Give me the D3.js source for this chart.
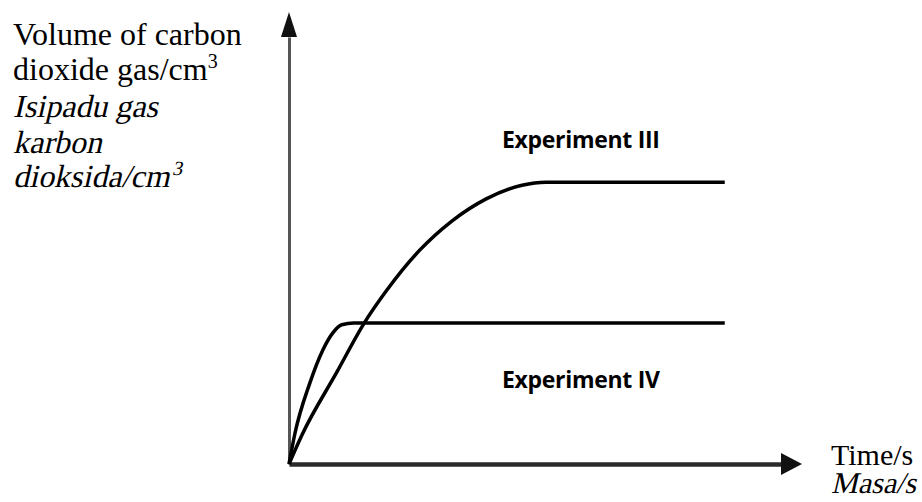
<!DOCTYPE html>
<html>
<head>
<meta charset="utf-8">
<script src="https://cdn.jsdelivr.net/npm/d3@7"></script>
<style>
  html, body { margin: 0; padding: 0; background: #fff; }
  svg { display: block; }
</style>
</head>
<body>
<div id="chart"></div>
<script>
// curve data (arbitrary units, 0-100 on both axes)
const timeIII = [0, 2.6, 9.6, 15.1, 19.7, 26.1, 32.7, 39.6, 46.8, 51.6, 60, 87.5];
const volumeIII = [0, 6.8, 21.5, 33, 40.8, 49.9, 56.9, 62.1, 65.3, 66, 66, 66];
const timeIV = [0, 1.2, 4.2, 6.8, 8.8, 10.6, 13, 87.5];
const volumeIV = [0, 7.2, 19, 26.7, 30.7, 32.6, 33, 33];

const seriesNames = ["Experiment III", "Experiment IV"];
const yLabelLines = ["Volume of carbon", "dioxide gas/cm", "Isipadu gas", "karbon", "dioksida/cm"];
const xLabelLines = ["Time/s", "Masa/s"];

const width = 922, height = 502;
const serif = "'Liberation Serif', 'Times New Roman', Times, serif";
const svg = d3.select("#chart").append("svg").attr("width", width).attr("height", height);

const x = d3.scaleLinear().domain([0, 100]).range([289, 787]);
const y = d3.scaleLinear().domain([0, 100]).range([464, 37]);

// axes with no ticks, just the spine
svg.append("g")
  .attr("transform", `translate(${x(0)},0)`)
  .call(d3.axisLeft(y).tickValues([]).tickSizeOuter(0))
  .call(g => g.select(".domain").attr("stroke", "#555").attr("stroke-width", 3));

svg.append("g")
  .attr("transform", `translate(0,${y(0)})`)
  .call(d3.axisBottom(x).tickValues([]).tickSizeOuter(0))
  .call(g => g.select(".domain").attr("stroke", "#2a2a2a").attr("stroke-width", 4.5));

// arrow heads
svg.append("path")
  .attr("d", `M${x(0)},12 L${x(0) - 8},${y(100)} L${x(0) + 8},${y(100)} Z`)
  .attr("fill", "#111");
svg.append("path")
  .attr("d", `M802,${y(0)} L${x(100) - 6},${y(0) - 11} L${x(100) - 6},${y(0) + 11} Z`)
  .attr("fill", "#111");

const line = d3.line()
  .x(d => x(d[0]))
  .y(d => y(d[1]))
  .curve(d3.curveMonotoneX);

const series = [
  d3.zip(timeIII, volumeIII),
  d3.zip(timeIV, volumeIV)
];

svg.append("g")
  .attr("fill", "none")
  .attr("stroke", "#000")
  .attr("stroke-width", 3.5)
  .attr("stroke-linejoin", "round")
  .selectAll("path")
  .data(series)
  .join("path")
  .attr("d", line);

// series labels
[148, 388].forEach((yy, i) => {
  svg.append("text")
    .attr("x", 502).attr("y", yy)
    .attr("font-family", "'Open Sans', sans-serif")
    .attr("font-weight", "bold")
    .attr("font-size", 23)
    .attr("letter-spacing", -0.3)
    .text(seriesNames[i]);
});

// serif text; the italic face isn't available, so slant the upright one
function serifText(g, s, px, py, italic, size) {
  return g.append("text")
    .attr("transform", `translate(${px},${py})` + (italic ? " skewX(-13)" : ""))
    .attr("font-family", serif)
    .attr("font-size", size)
    .text(s);
}

// y axis title
const yBase = [45, 80, 117, 153, 187];
const yTitle = svg.append("g").attr("fill", "#000");
yLabelLines.forEach((s, i) => {
  const t = serifText(yTitle, s, 13, yBase[i], i >= 2, 32);
  if (s.endsWith("/cm")) {
    t.append("tspan").attr("dy", -12).attr("font-size", 20).text("3");
  }
});

// x axis title
const xTitle = svg.append("g").attr("fill", "#000");
xLabelLines.forEach((s, i) => {
  serifText(xTitle, s, 831, 465 + i * 28, i === 1, 30);
});
</script>
</body>
</html>
